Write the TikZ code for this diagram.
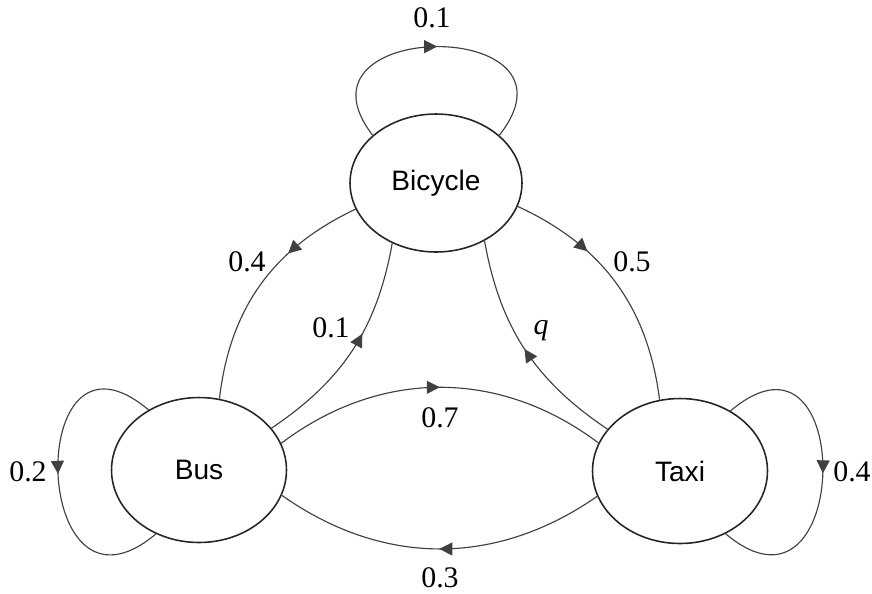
\documentclass[tikz,border=0pt]{standalone}
\usepackage{fontspec}
\setmainfont{Liberation Serif}
\newfontfamily\arialf{Liberation Sans}
\usetikzlibrary{shapes.geometric,arrows.meta,decorations.markings}
\begin{document}
\begin{tikzpicture}[x=0.02cm,y=-0.02cm,
 state/.style={ellipse,draw=black!85,line width=0.9pt,inner sep=0pt,font=\arialf\fontsize{16}{19}\selectfont},
 lbl/.style={font=\fontsize{17}{20}\selectfont,inner sep=0pt},
 edge/.style={draw=black!75,line width=0.65pt},
 midarrow/.style={postaction={decorate},decoration={markings,mark=at position #1 with {\arrow{Triangle[length=0.26cm,width=0.26cm]}}}}
]
\useasboundingbox (0,0) rectangle (872,593);
\node[state,minimum width=3.44cm,minimum height=2.76cm] (bic) at (436,183) {Bicycle};
\node[state,minimum width=3.5cm,minimum height=2.9cm] (bus) at (199,470) {Bus};
\node[state,minimum width=3.5cm,minimum height=2.9cm] (taxi) at (680,471) {Taxi};

% self loops
\path[edge,midarrow=0.5] (bic.143) .. controls (282,18) and (593,16) .. (bic.37);
\path[edge,midarrow=0.5] (bus.130) .. controls (23,304) and (30,640) .. (bus.236);
\path[edge,midarrow=0.5] (taxi.50) .. controls (857,304) and (852,640) .. (taxi.306);

% between states
\path[edge,midarrow=0.33] (bic.198) to[bend right=29] (bus.74);
\path[edge,midarrow=0.58] (bus.30) to[bend right=23] (bic.234);
\path[edge,midarrow=0.33] (bic.344) to[bend left=29] (taxi.106);
\path[edge,midarrow=0.5] (taxi.150) to[bend left=23] (bic.310);
\path[edge,midarrow=0.5] (bus.18) to[bend left=37] (taxi.161);
\path[edge,midarrow=0.5] (taxi.197) to[bend left=35] (bus.343);

% labels
\node[lbl] (l1) at (432,18) {0.1};
\node[lbl] (l2) at (28,472) {0.2};
\node[lbl] (l3) at (852,472) {0.4};
\node[lbl] (l4) at (247,262) {0.4};
\node[lbl] (l5) at (331,328) {0.1};
\node[lbl] (l6) at (632,262) {0.5};
\node[lbl] (l7) at (541,331) {\textit{q}};
\node[lbl] (l8) at (440,418) {0.7};
\node[lbl] (l9) at (440,578) {0.3};
\end{tikzpicture}
\end{document}
